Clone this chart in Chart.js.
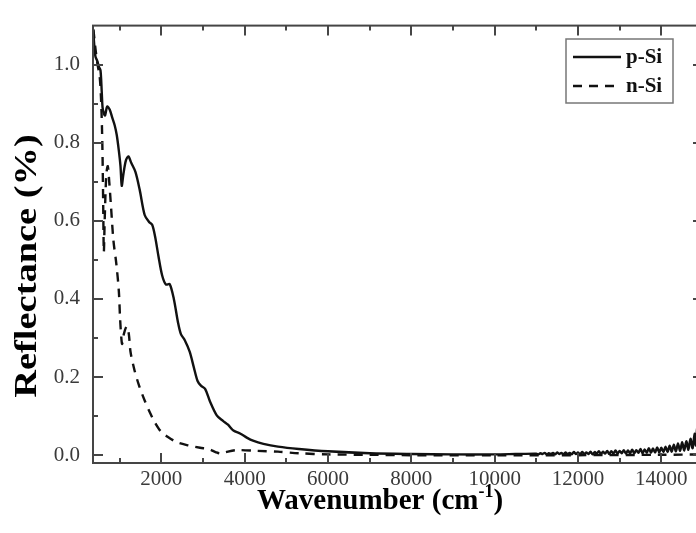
<!DOCTYPE html>
<html><head><meta charset="utf-8">
<script src="https://cdn.jsdelivr.net/npm/chart.js@4.4.0/dist/chart.umd.min.js"></script>
<style>html,body{margin:0;padding:0;background:#fff;overflow:hidden}#wrap{width:710px;height:533px;position:relative}</style>
</head><body><div id="wrap"><canvas id="c"></canvas></div>
<script>
const seriesNames = ['p-Si', 'n-Si'];

const pSiWavenumber = [365,390,420,460,500,540,570,590,620,650,700,760,820,880,930,980,1020,1050,1090,1150,1210,1280,1380,1480,1600,1700,1780,1850,1930,2020,2110,2200,2300,2400,2470,2560,2680,2780,2870,2950,3050,3170,3330,3480,3600,3730,3900,4050,4200,4450,4800,5300,6000,7000,8000,9000,10000,10500,
11000,11050,11100,11150,11200,11250,11300,11350,11400,11450,11500,11550,11600,11650,11700,11750,11800,11850,11900,11950,
12000,12050,12100,12150,12200,12250,12300,12350,12400,12450,12500,12550,12600,12650,12700,12750,12800,12850,12900,12950,
13000,13050,13100,13150,13200,13250,13300,13350,13400,13450,13500,13550,13600,13650,13700,13750,13800,13850,13900,13950,
14000,14050,14100,14150,14200,14250,14300,14350,14400,14450,14500,14550,14600,14650,14700,14750,14800,14830,14860,14900,14950,15000];
const pSiReflectance = [1.09,1.05,1.02,1.01,0.995,0.985,0.93,0.89,0.875,0.87,0.893,0.885,0.865,0.845,0.82,0.78,0.74,0.69,0.72,0.755,0.765,0.748,0.725,0.68,0.615,0.598,0.59,0.56,0.51,0.46,0.437,0.438,0.40,0.34,0.31,0.295,0.265,0.225,0.19,0.178,0.17,0.137,0.102,0.088,0.078,0.063,0.055,0.045,0.037,0.029,0.022,0.016,0.010,0.005,0.003,0.002,0.002,0.003,
0.004,0.002,0.005,0.003,0.006,0.002,0.005,0.003,0.006,0.002,0.007,0.003,0.006,0.002,0.007,0.003,0.006,0.002,0.008,0.003,
0.007,0.002,0.008,0.003,0.007,0.003,0.009,0.002,0.008,0.004,0.010,0.003,0.009,0.004,0.011,0.003,0.010,0.004,0.012,0.004,
0.011,0.005,0.013,0.004,0.012,0.005,0.014,0.005,0.013,0.006,0.016,0.005,0.015,0.006,0.018,0.006,0.017,0.007,0.020,0.007,
0.019,0.008,0.022,0.008,0.024,0.009,0.027,0.010,0.030,0.011,0.033,0.012,0.036,0.014,0.042,0.018,0.055,0.025,0.070,0.035,0.080,0.050];

const nSiWavenumber = [370,420,470,520,550,575,590,605,620,640,680,715,750,790,850,920,980,1010,1040,1060,1100,1170,1220,1260,1350,1460,1600,1740,1850,1980,2150,2380,2650,2930,3150,3300,3420,3550,3800,4300,4800,5300,6000,7000,8000,10000,12000,14000,15000];
const nSiReflectance = [1.09,1.04,1.00,0.97,0.92,0.84,0.76,0.64,0.52,0.60,0.72,0.74,0.70,0.64,0.55,0.49,0.42,0.35,0.30,0.285,0.31,0.33,0.31,0.265,0.22,0.18,0.14,0.106,0.083,0.062,0.047,0.033,0.025,0.019,0.015,0.008,0.004,0.008,0.013,0.011,0.009,0.005,0.002,0.001,0.0,0.0,0.0,0.001,0.002];

const xMajorTicks = [2000,4000,6000,8000,10000,12000,14000];
const xMinorTicks = [1000,3000,5000,7000,9000,11000,13000];
const yMajorTicks = [0.0,0.2,0.4,0.6,0.8,1.0];
const yMinorTicks = [0.1,0.3,0.5,0.7,0.9];
const xTitleMain = 'Wavenumber (cm';
const xTitleSup = '-1';
const xTitleEnd = ')';
const yTitle = 'Reflectance (%)';

const SERIF = '"Liberation Serif", "Times New Roman", serif';

const boxPlugin = {
  id: 'box',
  afterDatasetsDraw(chart) {
    const {ctx, chartArea: a, scales: {x, y}} = chart;
    ctx.save();
    ctx.strokeStyle = '#454545';
    ctx.lineWidth = 2;
    ctx.strokeRect(a.left, a.top, a.right - a.left, a.bottom - a.top);
    const seg = (x1, y1, x2, y2) => { ctx.beginPath(); ctx.moveTo(x1, y1); ctx.lineTo(x2, y2); ctx.stroke(); };
    const xt = (vals, len) => vals.forEach(v => {
      const p = Math.round(x.getPixelForValue(v));
      if (p <= a.left || p >= a.right) return;
      seg(p, a.bottom, p, a.bottom - len);
      seg(p, a.top, p, a.top + len);
    });
    const yt = (vals, len) => vals.forEach(v => {
      const p = Math.round(y.getPixelForValue(v));
      seg(a.left, p, a.left + len, p);
      seg(a.right, p, a.right - len, p);
    });
    xt(xMajorTicks, 10); xt(xMinorTicks, 5);
    yt(yMajorTicks, 10); yt(yMinorTicks, 5);
    ctx.restore();
  },
  afterDraw(chart) {
    const {ctx} = chart;
    ctx.save();
    // legend
    const lx = 566, ly = 39, lw = 107, lh = 64;
    ctx.fillStyle = '#fff';
    ctx.fillRect(lx, ly, lw, lh);
    ctx.strokeStyle = '#777';
    ctx.lineWidth = 1.5;
    ctx.strokeRect(lx, ly, lw, lh);
    chart.data.datasets.forEach((ds, i) => {
      const yy = ly + 18 + i * 29;
      ctx.strokeStyle = ds.borderColor;
      ctx.lineWidth = 2.5;
      ctx.setLineDash(ds.borderDash || []);
      ctx.beginPath(); ctx.moveTo(lx + 7, yy); ctx.lineTo(lx + 55, yy); ctx.stroke();
      ctx.setLineDash([]);
      ctx.fillStyle = '#111';
      ctx.font = 'bold 21px ' + SERIF;
      ctx.textAlign = 'left'; ctx.textBaseline = 'middle';
      ctx.fillText(ds.label, lx + 60, yy + 1);
    });
    // y title (stretched along its length like the reference)
    ctx.fillStyle = '#000';
    ctx.font = 'bold 31px ' + SERIF;
    ctx.translate(28, 266);
    ctx.rotate(-Math.PI / 2);
    ctx.scale(1.24, 1);
    ctx.textAlign = 'center'; ctx.textBaseline = 'middle';
    ctx.fillText(yTitle, 0, 0);
    ctx.setTransform(1, 0, 0, 1, 0, 0);
    // x title with superscript
    const mainFont = 'bold 29px ' + SERIF, supFont = 'bold 18px ' + SERIF;
    ctx.font = mainFont; const w1 = ctx.measureText(xTitleMain).width, w3 = ctx.measureText(xTitleEnd).width;
    ctx.font = supFont; const w2 = ctx.measureText(xTitleSup).width;
    let sx = 380 - (w1 + w2 + w3) / 2; const by = 509;
    ctx.textAlign = 'left'; ctx.textBaseline = 'alphabetic';
    ctx.font = mainFont; ctx.fillText(xTitleMain, sx, by); sx += w1;
    ctx.font = supFont; ctx.fillText(xTitleSup, sx, by - 12); sx += w2;
    ctx.font = mainFont; ctx.fillText(xTitleEnd, sx, by);
    ctx.restore();
  }
};

const toPts = (xs, ys) => xs.map((v, i) => ({x: v, y: ys[i]}));

new Chart(document.getElementById('c'), {
  type: 'line',
  data: {
    datasets: [
      {label: seriesNames[0], data: toPts(pSiWavenumber, pSiReflectance), borderColor: '#111', borderWidth: 2.4, pointRadius: 0, tension: 0.3, fill: false},
      {label: seriesNames[1], data: toPts(nSiWavenumber, nSiReflectance), borderColor: '#111', borderWidth: 2.4, borderDash: [9, 7], pointRadius: 0, tension: 0.3, fill: false}
    ]
  },
  options: {
    responsive: true, maintainAspectRatio: false, animation: false,
    layout: {padding: {top: 13, right: 7, left: 0, bottom: 0}},
    plugins: {legend: {display: false}, tooltip: {enabled: false}},
    scales: {
      x: {
        type: 'linear', min: 360, max: 15000,
        grid: {display: false, drawTicks: false}, border: {display: false},
        ticks: {autoSkip: false, padding: 4, color: '#3a3a3a', font: {family: SERIF, size: 21}, maxRotation: 0, minRotation: 0, callback: v => String(v)},
        afterBuildTicks: s => { s.ticks = xMajorTicks.map(v => ({value: v})); },
        afterFit: s => { s.height = 70; }
      },
      y: {
        type: 'linear', min: -0.02, max: 1.1,
        grid: {display: false, drawTicks: false}, border: {display: false},
        ticks: {autoSkip: false, padding: 13, color: '#3a3a3a', font: {family: SERIF, size: 21}, callback: v => Number(v).toFixed(1)},
        afterBuildTicks: s => { s.ticks = yMajorTicks.map(v => ({value: v})); },
        afterFit: s => { s.width = 93; }
      }
    }
  },
  plugins: [boxPlugin]
});
</script>
</body></html>
